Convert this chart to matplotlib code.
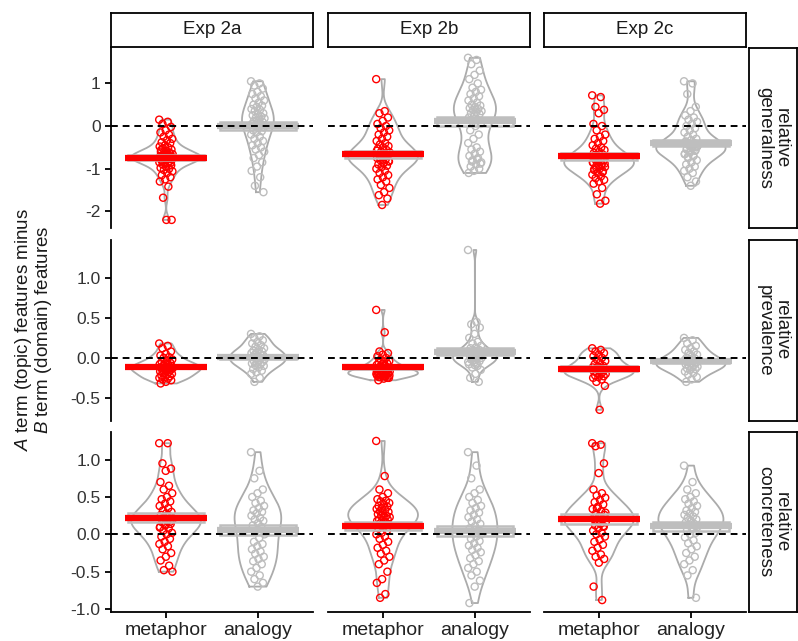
import matplotlib.pyplot as plt
import numpy as np

plt.rcParams['font.family'] = ['Liberation Sans', 'DejaVu Sans']
plt.rcParams['mathtext.fontset'] = 'custom'
plt.rcParams['mathtext.rm'] = 'Liberation Sans'
plt.rcParams['mathtext.it'] = 'Liberation Sans:italic'
plt.rcParams['axes.unicode_minus'] = False

experiments = ['Exp 2a', 'Exp 2b', 'Exp 2c']
measures = ['relative\ngeneralness', 'relative\nprevalence', 'relative\nconcreteness']
conditions = ['metaphor', 'analogy']

# relative generalness
gen_2a_metaphor = [0.15, 0.1, 0.05, -0.02, -0.1, -0.15, -0.2, -0.25, -0.3, -0.33, -0.38, -0.4, -0.45, -0.48,
                   -0.5, -0.52, -0.55, -0.58, -0.6, -0.62, -0.64, -0.66, -0.68, -0.7, -0.71, -0.72, -0.74, -0.75,
                   -0.76, -0.78, -0.79, -0.8, -0.82, -0.84, -0.85, -0.87, -0.9, -0.92, -0.95, -0.98, -1.0, -1.03,
                   -1.06, -1.1, -1.15, -1.2, -1.25, -1.3, -1.42, -1.68, -2.2, -2.2, -0.56, -0.63, -0.69, -0.73,
                   -0.77, -0.81, -0.86, -0.65, -0.7, -0.74]
gen_2a_analogy = [1.05, 1.0, 0.95, 0.88, 0.8, 0.75, 0.7, 0.65, 0.6, 0.55, 0.5, 0.48, 0.45, 0.4, 0.38, 0.35, 0.3,
                  0.28, 0.25, 0.22, 0.2, 0.18, 0.15, 0.12, 0.1, 0.08, 0.05, 0.02, 0.0, -0.03, -0.05, -0.1, -0.12,
                  -0.15, -0.2, -0.25, -0.3, -0.35, -0.4, -0.45, -0.5, -0.55, -0.6, -0.68, -0.75, -0.85, -0.95,
                  -1.05, -1.2, -1.4, -1.55]
gen_2b_metaphor = [1.1, 0.35, 0.3, 0.2, 0.12, 0.05, 0.0, -0.05, -0.1, -0.15, -0.2, -0.25, -0.3, -0.35, -0.4,
                   -0.43, -0.47, -0.5, -0.53, -0.56, -0.6, -0.62, -0.65, -0.68, -0.7, -0.72, -0.75, -0.78, -0.8,
                   -0.83, -0.86, -0.9, -0.93, -0.96, -1.0, -1.05, -1.1, -1.15, -1.2, -1.25, -1.3, -1.38, -1.45,
                   -1.55, -1.62, -1.7, -1.85, -0.58, -0.66, -0.74, -0.82, -0.88]
gen_2b_analogy = [1.6, 1.55, 1.45, 1.3, 1.2, 1.1, 1.0, 0.9, 0.85, 0.8, 0.75, 0.7, 0.65, 0.6, 0.55, 0.5, 0.48,
                  0.45, 0.42, 0.4, 0.38, 0.35, 0.32, 0.3, 0.28, 0.25, 0.2, 0.15, 0.1, 0.05, 0.0, -0.1, -0.2, -0.3,
                  -0.4, -0.5, -0.55, -0.6, -0.65, -0.7, -0.75, -0.8, -0.85, -0.9, -0.95, -1.0, -1.05, -1.1,
                  -0.78, -0.83, -0.88]
gen_2c_metaphor = [0.72, 0.68, 0.45, 0.38, 0.3, 0.05, 0.0, -0.1, -0.2, -0.25, -0.3, -0.35, -0.4, -0.45, -0.5,
                   -0.53, -0.56, -0.6, -0.63, -0.66, -0.7, -0.72, -0.75, -0.78, -0.8, -0.83, -0.86, -0.9, -0.93,
                   -0.96, -1.0, -1.03, -1.06, -1.1, -1.14, -1.18, -1.22, -1.26, -1.3, -1.35, -1.45, -1.6, -1.75,
                   -1.82, -0.68, -0.74, -0.79, -0.85, -0.91, -0.97, -0.88, -0.95, -1.02, -1.08, -0.8]
gen_2c_analogy = [1.05, 1.0, 0.75, 0.45, 0.35, 0.25, 0.2, 0.15, 0.1, 0.05, 0.0, -0.05, -0.1, -0.15,
                  -0.2, -0.25, -0.3, -0.33, -0.36, -0.4, -0.43, -0.46, -0.5, -0.53, -0.56, -0.6, -0.65, -0.7,
                  -0.75, -0.8, -0.85, -0.9, -0.95, -1.0, -1.05, -1.1, -1.2, -1.3, -1.4, -0.38, -0.42, -0.45,
                  -0.48, -0.52, -0.55, -0.58, -0.62, -0.66, -0.7, -0.72, -0.5]

# relative prevalence
prev_2a_metaphor = [0.18, 0.15, 0.12, 0.08, 0.05, 0.03, 0.01, 0.0, -0.02, -0.04, -0.05, -0.06, -0.07, -0.08,
                    -0.09, -0.1, -0.1, -0.11, -0.12, -0.12, -0.13, -0.13, -0.14, -0.15, -0.15, -0.16, -0.17,
                    -0.18, -0.19, -0.2, -0.21, -0.22, -0.23, -0.24, -0.25, -0.26, -0.27, -0.28, -0.3, -0.32]
prev_2a_analogy = [0.3, 0.27, 0.25, 0.22, 0.2, 0.18, 0.16, 0.14, 0.12, 0.1, 0.09, 0.08, 0.07, 0.06, 0.05, 0.04,
                   0.03, 0.02, 0.01, 0.0, -0.01, -0.02, -0.03, -0.04, -0.05, -0.06, -0.07, -0.08, -0.09, -0.1,
                   -0.12, -0.14, -0.16, -0.18, -0.2, -0.25, -0.3]
prev_2b_metaphor = [0.6, 0.32, 0.08, 0.06, 0.04, 0.02, 0.0, -0.02, -0.04, -0.05, -0.06, -0.07, -0.08, -0.09,
                    -0.1, -0.11, -0.12, -0.13, -0.14, -0.15, -0.16, -0.17, -0.18, -0.19, -0.2, -0.21, -0.22,
                    -0.23, -0.24, -0.25, -0.26, -0.28, -0.15, -0.18, -0.2, -0.22, -0.13, -0.15, -0.17, -0.19,
                    -0.2, -0.21, -0.22, -0.23, -0.24, -0.25, -0.18, -0.16]
prev_2b_analogy = [1.35, 0.45, 0.42, 0.38, 0.3, 0.25, 0.2, 0.18, 0.15, 0.13, 0.12, 0.1, 0.09, 0.08, 0.07, 0.06,
                   0.05, 0.04, 0.03, 0.02, 0.01, 0.0, -0.01, -0.02, -0.04, -0.06, -0.08, -0.1, -0.12, -0.15,
                   -0.2, -0.25, -0.3, -0.03, -0.05, -0.07, 0.0, 0.02, -0.09]
prev_2c_metaphor = [0.12, 0.1, 0.08, 0.06, 0.04, 0.02, 0.0, -0.02, -0.04, -0.06, -0.08, -0.1, -0.11, -0.12,
                    -0.13, -0.14, -0.15, -0.16, -0.17, -0.18, -0.19, -0.2, -0.21, -0.22, -0.23, -0.24, -0.25,
                    -0.27, -0.3, -0.35, -0.65]
prev_2c_analogy = [0.25, 0.22, 0.18, 0.15, 0.12, 0.1, 0.08, 0.06, 0.04, 0.02, 0.0, -0.01, -0.02, -0.03, -0.04,
                   -0.05, -0.06, -0.07, -0.08, -0.09, -0.1, -0.11, -0.12, -0.13, -0.14, -0.15, -0.17, -0.19,
                   -0.21, -0.24, -0.27, -0.3]

# relative concreteness
conc_2a_metaphor = [1.22, 1.22, 0.95, 0.88, 0.85, 0.7, 0.65, 0.6, 0.55, 0.5, 0.47, 0.44, 0.41, 0.38, 0.35, 0.32,
                    0.3, 0.28, 0.26, 0.24, 0.22, 0.2, 0.18, 0.16, 0.14, 0.12, 0.1, 0.08, 0.05, 0.02, 0.0, -0.03,
                    -0.06, -0.1, -0.13, -0.16, -0.2, -0.25, -0.3, -0.35, -0.42, -0.48, -0.5, 0.25, 0.21, 0.17,
                    0.13, 0.09]
conc_2a_analogy = [1.1, 0.85, 0.75, 0.6, 0.55, 0.5, 0.45, 0.42, 0.38, 0.35, 0.32, 0.3, 0.28, 0.25, 0.22, 0.2,
                   0.18, 0.15, 0.12, 0.1, 0.05, 0.0, -0.05, -0.1, -0.13, -0.16, -0.2, -0.23, -0.26, -0.3, -0.33,
                   -0.36, -0.4, -0.45, -0.5, -0.55, -0.6, -0.65, -0.7]
conc_2b_metaphor = [1.25, 0.78, 0.6, 0.55, 0.5, 0.47, 0.45, 0.44, 0.42, 0.4, 0.38, 0.37, 0.35, 0.34, 0.33, 0.31,
                    0.3, 0.28, 0.27, 0.25, 0.25, 0.23, 0.22, 0.2, 0.2, 0.19, 0.18, 0.16, 0.15, 0.13, 0.1, 0.08,
                    0.05, 0.02, 0.0, -0.03, -0.06, -0.1, -0.14, -0.18, -0.22, -0.26, -0.3, -0.35, -0.4, -0.5,
                    -0.6, -0.65, -0.8, -0.85]
conc_2b_analogy = [1.1, 0.92, 0.75, 0.6, 0.55, 0.5, 0.46, 0.42, 0.38, 0.35, 0.32, 0.29, 0.26, 0.23, 0.2, 0.17,
                   0.14, 0.11, 0.08, 0.05, 0.02, 0.0, -0.03, -0.06, -0.09, -0.12, -0.15, -0.18, -0.21, -0.24,
                   -0.28, -0.32, -0.36, -0.4, -0.45, -0.5, -0.55, -0.62, -0.7, -0.92]
conc_2c_metaphor = [1.22, 1.2, 1.18, 0.95, 0.82, 0.6, 0.55, 0.52, 0.49, 0.46, 0.43, 0.4, 0.37, 0.34, 0.31, 0.28,
                    0.26, 0.24, 0.22, 0.2, 0.18, 0.16, 0.14, 0.12, 0.1, 0.08, 0.05, 0.02, 0.0, -0.03, -0.07, -0.1,
                    -0.14, -0.18, -0.22, -0.27, -0.3, -0.33, -0.38, -0.7, -0.88, 0.35, 0.29, 0.23, 0.19, 0.11]
conc_2c_analogy = [0.92, 0.7, 0.6, 0.55, 0.5, 0.47, 0.44, 0.41, 0.38, 0.35, 0.32, 0.3, 0.28, 0.26, 0.24, 0.22,
                   0.2, 0.18, 0.16, 0.14, 0.12, 0.1, 0.08, 0.05, 0.02, 0.0, -0.04, -0.08, -0.12, -0.16, -0.2,
                   -0.25, -0.3, -0.35, -0.4, -0.48, -0.55, -0.85]

data = [
    [(gen_2a_metaphor, gen_2a_analogy), (gen_2b_metaphor, gen_2b_analogy), (gen_2c_metaphor, gen_2c_analogy)],
    [(prev_2a_metaphor, prev_2a_analogy), (prev_2b_metaphor, prev_2b_analogy), (prev_2c_metaphor, prev_2c_analogy)],
    [(conc_2a_metaphor, conc_2a_analogy), (conc_2b_metaphor, conc_2b_analogy), (conc_2c_metaphor, conc_2c_analogy)],
]

row_ylims = [(-2.39, 1.83), (-0.79, 1.475), (-1.04, 1.37)]
row_yticks = [[-2, -1, 0, 1], [-0.5, 0.0, 0.5, 1.0], [-1.0, -0.5, 0.0, 0.5, 1.0]]

W, H = 798, 641
col_px = [(111, 313), (328, 530), (544, 746)]
row_px = [(48, 228), (240, 421), (432, 612)]

RED = '#FF0000'
POINT_GRAY = '#BDBDBD'
VIOLIN_GRAY = '#ABABAB'
BAR_GRAY = '#BEBEBE'


def px_axes(fig, x0, x1, y0, y1):
    return fig.add_axes([x0 / W, 1 - y1 / H, (x1 - x0) / W, (y1 - y0) / H])


def kde(vals, grid):
    vals = np.asarray(vals)
    n = len(vals)
    sd = vals.std(ddof=1)
    iqr = np.subtract(*np.percentile(vals, [75, 25]))
    bw = 0.9 * min(sd, iqr / 1.34) * n ** -0.2
    z = (grid[:, None] - vals[None, :]) / bw
    return np.exp(-0.5 * z ** 2).sum(axis=1) / (n * bw * np.sqrt(2 * np.pi))


fig = plt.figure(figsize=(W / 100, H / 100), dpi=100)

for r in range(3):
    for c in range(3):
        ax = px_axes(fig, col_px[c][0], col_px[c][1], row_px[r][0], row_px[r][1])
        groups = data[r][c]

        # violins, scaled within the panel
        grids, dens = [], []
        for vals in groups:
            g = np.linspace(min(vals), max(vals), 256)
            grids.append(g)
            dens.append(kde(vals, g))
        dmax = max(d.max() for d in dens)
        for i, vals in enumerate(groups):
            pos = i + 1
            half = 0.38 * dens[i] / dmax
            xs = np.concatenate([pos - half, (pos + half)[::-1], [pos - half[0]]])
            ys = np.concatenate([grids[i], grids[i][::-1], [grids[i][0]]])
            ax.plot(xs, ys, color=VIOLIN_GRAY, lw=1.3, zorder=2)

        # jittered points
        for i, vals in enumerate(groups):
            pos = i + 1
            n = len(vals)
            jit = ((np.arange(n) * 0.618034) % 1 - 0.5) * 0.15
            col = RED if i == 0 else POINT_GRAY
            ax.scatter(pos + jit, vals, s=26, facecolors='none', edgecolors=col, linewidths=1.0, zorder=3)

        # mean with standard error box
        for i, vals in enumerate(groups):
            pos = i + 1
            v = np.asarray(vals)
            m = v.mean()
            se = v.std(ddof=1) / np.sqrt(len(v))
            ax.add_patch(plt.Rectangle((pos - 0.41, m - se), 0.82, 2 * se, facecolor='none',
                                       edgecolor=BAR_GRAY, lw=1.8, zorder=4))
            col = RED if i == 0 else BAR_GRAY
            ax.plot([pos - 0.45, pos + 0.45], [m, m], color=col, lw=4.5, solid_capstyle='butt', zorder=5)

        ax.axhline(0, color='black', lw=1.4, ls=(0, (3.5, 2.5)), zorder=10)

        ax.set_xlim(0.4, 2.6)
        ax.set_ylim(*row_ylims[r])
        for s in ['top', 'right']:
            ax.spines[s].set_visible(False)
        ax.spines['left'].set_visible(c == 0)
        ax.spines['bottom'].set_visible(r == 2)
        for s in ['left', 'bottom']:
            ax.spines[s].set_linewidth(1.3)
        ax.tick_params(width=1.3, length=4, color='black')
        if c == 0:
            ax.set_yticks(row_yticks[r])
            if r == 0:
                ax.set_yticklabels([f'{t:d}' for t in row_yticks[r]], fontsize=12.5, color='#333333')
            else:
                ax.set_yticklabels([f'{t:.1f}' for t in row_yticks[r]], fontsize=12.5, color='#333333')
        else:
            ax.set_yticks([])
        if r == 2:
            ax.set_xticks([1, 2])
            ax.set_xticklabels(conditions, fontsize=14, color='#222222')
            ax.tick_params(axis='x', pad=3)
        else:
            ax.set_xticks([])

# column strips
for c in range(3):
    sa = px_axes(fig, col_px[c][0], col_px[c][1], 13, 47)
    sa.set_xticks([])
    sa.set_yticks([])
    for s in sa.spines.values():
        s.set_linewidth(1.3)
    sa.text(0.5, 0.5, experiments[c], ha='center', va='center', fontsize=13.5, color='#1A1A1A',
            transform=sa.transAxes)

# row strips
for r in range(3):
    sa = px_axes(fig, 749, 797, row_px[r][0], row_px[r][1])
    sa.set_xticks([])
    sa.set_yticks([])
    for s in sa.spines.values():
        s.set_linewidth(1.3)
    sa.text(0.5, 0.5, measures[r], ha='center', va='center', fontsize=13.5, color='#1A1A1A',
            rotation=-90, linespacing=1.0, transform=sa.transAxes)

# y axis title, two lines
fig.text(24 / W, 1 - 330 / H, r'$\it{A}$ term (topic) features minus', rotation=90,
         ha='center', va='center', fontsize=13.5, color='#1A1A1A')
fig.text(44 / W, 1 - 330 / H, r'$\it{B}$ term (domain) features', rotation=90,
         ha='center', va='center', fontsize=13.5, color='#1A1A1A')

fig.savefig('out.png', dpi=100)
